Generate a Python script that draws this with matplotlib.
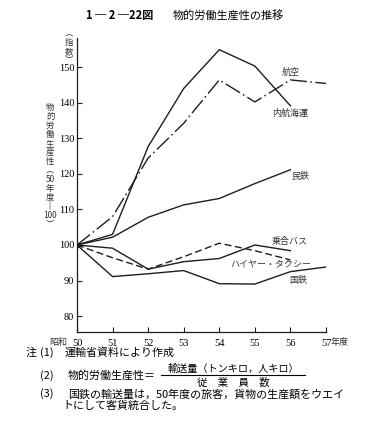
import matplotlib
matplotlib.use('Agg')
import matplotlib.pyplot as plt
from matplotlib.lines import Line2D

plt.rcParams['font.family'] = ['Noto Sans CJK JP', 'DejaVu Sans']

# 年度 (昭和)
years = [50, 51, 52, 53, 54, 55, 56, 57]

# 物的労働生産性 (50年度=100)
kouku = [100, 108, 124.5, 134.3, 146.5, 140.3, 146.5, 145.5]   # 航空
naikou = [100, 103, 127.7, 144.1, 155, 150.4, 139.2]           # 内航海運
mintetsu = [100, 102.2, 107.8, 111.3, 113.1, 117.3, 121.2]     # 民鉄
noriai = [100, 99.1, 93.2, 95.3, 96.2, 100, 98.4]              # 乗合バス
taxi = [100, 96.4, 93.2, 96.7, 100.5, 98.4, 95.8]              # ハイヤー・タクシー
kokutetsu = [100, 91.1, 91.9, 92.8, 89.1, 89.0, 92.5, 93.8]    # 国鉄

y_ticks = [80, 90, 100, 110, 120, 130, 140, 150]

fig = plt.figure(figsize=(3.74, 4.33), dpi=100)
ax = fig.add_axes([0.2059, 0.2333, 0.6658, 0.6789])

col = '#1e1e1e'
lw = 1.0
ax.plot(years[:len(naikou)], naikou, color=col, lw=lw)
ax.plot(years, kouku, color=col, lw=lw, dashes=(12, 2.5, 1.2, 2.5))
ax.plot(years[:len(mintetsu)], mintetsu, color=col, lw=lw)
ax.plot(years[:len(noriai)], noriai, color=col, lw=lw)
ax.plot(years[:len(taxi)], taxi, color=col, lw=lw, dashes=(5, 2.5))
ax.plot(years, kokutetsu, color=col, lw=lw)
ax.plot([50], [100], marker='o', ms=3, color=col)

lab = dict(fontsize=6.5, color='#333333', va='center', ha='center')
ax.text(56.02, 148.5, '航空', **lab)
ax.text(56.0, 137.2, '内航海運', **lab)
ax.text(56.27, 119.2, '民鉄', **lab)
ax.text(55.99, 101.1, '乗合バス', **lab)
ax.text(55.45, 94.6, 'ハイヤー・タクシー', **lab)
ax.text(56.22, 90.1, '国鉄', **lab)

ax.set_xlim(50, 57)
ax.set_ylim(75.5, 158.3)
ax.set_xticks(years)
ax.set_xticklabels([str(y) for y in years], family='Liberation Serif', fontsize=7.5)
ax.set_yticks(y_ticks)
ax.set_yticklabels([str(v) for v in y_ticks], family='Liberation Serif', fontsize=7.5)
ax.tick_params(direction='in', length=3.5, width=0.8, color=col)
ax.tick_params(axis='y', pad=2)
ax.tick_params(axis='x', pad=5)
for s in ['top', 'right']:
    ax.spines[s].set_visible(False)
for s in ['left', 'bottom']:
    ax.spines[s].set_linewidth(0.9)
    ax.spines[s].set_color(col)

# 軸の補助テキスト
fig.text(0.180, 0.209, '昭和', fontsize=6.5, ha='right', va='center', color='#333333')
fig.text(0.884, 0.209, '年度', fontsize=6.5, ha='left', va='center', color='#333333')
fig.text(0.184, 0.891, '︵\n指\n数\n︶', fontsize=6, ha='center', va='center',
         linespacing=1.0, color='#333333')
fig.text(0.134, 0.616, '物\n的\n労\n働\n生\n産\n性\n︵\n50\n年\n度\n‖\n100\n︶',
         fontsize=6, ha='center', va='center', linespacing=1.0, color='#333333')

# タイトル
fig.text(0.41, 0.965, '1 ─ 2 ─22図', fontsize=8, fontweight='bold', ha='right', va='center')
fig.text(0.462, 0.965, '物的労働生産性の推移', fontsize=8, ha='left', va='center')

# 注
nt = dict(fontsize=7.9, va='center')
fig.text(0.067, 0.185, '注', **nt)
fig.text(0.107, 0.185, '(1)', **nt)
fig.text(0.174, 0.185, '運輸省資料により作成', **nt)
fig.text(0.107, 0.132, '(2)', **nt)
fig.text(0.182, 0.132, '物的労働生産性＝', **nt)
fig.text(0.623, 0.148, '輸送量（トンキロ，人キロ）', fontsize=7.3, ha='center', va='center')
fig.text(0.623, 0.116, '従　業　員　数', fontsize=7.5, ha='center', va='center')
fig.add_artist(Line2D([0.43, 0.815], [0.134, 0.134], color='black', lw=0.8))
fig.text(0.107, 0.09, '(3)', **nt)
fig.text(0.182, 0.09, '国鉄の輸送量は，50年度の旅客，貨物の生産額をウエイ', **nt)
fig.text(0.166, 0.062, 'トにして客貨統合した。', **nt)

fig.savefig('out.png', dpi=100)
